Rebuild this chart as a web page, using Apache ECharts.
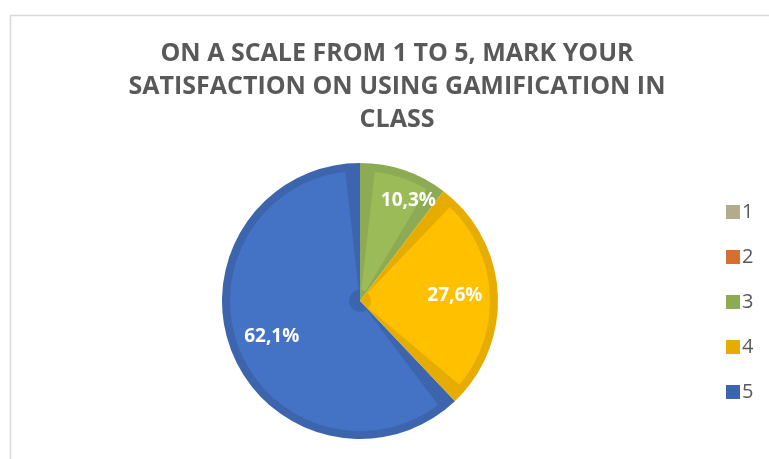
<!DOCTYPE html>
<html>
<head>
<meta charset="utf-8">
<script src="https://cdn.jsdelivr.net/npm/echarts@6/dist/echarts.min.js"></script>
<style>
html, body { margin: 0; padding: 0; background: #fff; }
#chart { width: 769px; height: 459px; }
</style>
</head>
<body>
<div id="chart"></div>
<script>
// answers per rating (29 answers in total)
var categories = ['1', '2', '3', '4', '5'];
var counts = [0, 0, 3, 8, 18];
var fillColors = ['#C4BD97', '#ED7D31', '#9BBB59', '#FFC000', '#4472C4'];
var edgeColors = ['#B1AC8B', '#D6702F', '#8DAA55', '#E6AD00', '#3C65AE'];
var titleText = 'ON A SCALE FROM 1 TO 5, MARK YOUR\nSATISFACTION ON USING GAMIFICATION IN\nCLASS';

var chart = echarts.init(document.getElementById('chart'));

var padDeg = 13;

var edgeData = categories.map(function (c, i) {
    return {name: c, value: counts[i], itemStyle: {color: edgeColors[i]}};
});
// zero answers have no slice, so leave them out of the inner layer
var fillData = [];
categories.forEach(function (c, i) {
    if (counts[i] > 0) {
        fillData.push({name: c, value: counts[i], itemStyle: {color: fillColors[i]}});
    }
});
var labelData = categories.map(function (c, i) {
    var item = {name: c, value: counts[i]};
    if (c === '3') {
        item.label = {offset: [18, -10]};
    }
    return item;
});

chart.setOption({
    animation: false,
    graphic: [{
        type: 'rect',
        left: 8, top: 13,
        shape: {width: 800, height: 500},
        style: {fill: 'none', stroke: '#D9D9D9', lineWidth: 1.5},
        silent: true
    }],
    title: {
        text: titleText,
        left: 392,
        top: 32,
        textAlign: 'center',
        textStyle: {
            fontFamily: 'Open Sans',
            fontWeight: 'bold',
            fontSize: 25,
            lineHeight: 33,
            color: '#595959'
        }
    },
    legend: {
        orient: 'vertical',
        left: 721,
        top: 197,
        itemWidth: 14,
        itemHeight: 14,
        itemGap: 25,
        icon: 'rect',
        data: categories,
        textStyle: {fontFamily: 'Open Sans', fontSize: 20, lineHeight: 20, color: '#595959', padding: [0, 0, 0, -3]}
    },
    series: [
        {
            // darker edge of each slice
            type: 'pie',
            center: [360, 301],
            radius: 138,
            startAngle: 90,
            clockwise: true,
            silent: true,
            label: {show: false},
            labelLine: {show: false},
            data: edgeData
        },
        {
            // lighter inner fill
            type: 'pie',
            center: [360, 301],
            radius: [11, 130],
            startAngle: 90,
            clockwise: true,
            padAngle: padDeg,
            silent: true,
            label: {show: false},
            labelLine: {show: false},
            data: fillData
        },
        {
            // labels only
            type: 'pie',
            center: [360, 301],
            radius: [46, 138],
            startAngle: 90,
            clockwise: true,
            silent: true,
            itemStyle: {color: 'rgba(0,0,0,0)'},
            label: {
                show: true,
                position: 'inside',
                fontFamily: 'Open Sans',
                fontWeight: 'bold',
                fontSize: 19,
                color: '#fff',
                formatter: function (p) {
                    return p.value ? p.percent.toFixed(1).replace('.', ',') + '%' : '';
                }
            },
            labelLine: {show: false},
            data: labelData
        }
    ]
});
</script>
</body>
</html>
